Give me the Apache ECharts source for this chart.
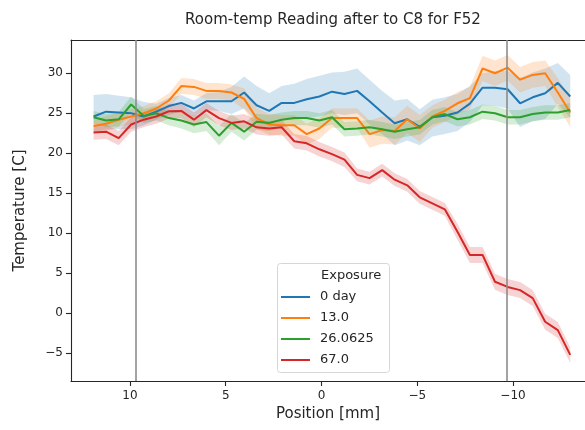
<!DOCTYPE html>
<html><head><meta charset="utf-8">
<script src="https://cdn.jsdelivr.net/npm/echarts@6/dist/echarts.min.js"></script>
<style>html,body{margin:0;padding:0;background:#fff}#c{width:585px;height:430px}</style>
</head><body><div id="c"></div>
<script>
// Position [mm] of each sample
const positions = [11.90, 11.25, 10.59, 9.94, 9.28, 8.63, 7.97, 7.32, 6.66, 6.01, 5.35, 4.70, 4.04, 3.39, 2.73, 2.08, 1.42, 0.77, 0.11, -0.55, -1.20, -1.86, -2.51, -3.17, -3.82, -4.48, -5.13, -5.79, -6.44, -7.10, -7.75, -8.41, -9.06, -9.72, -10.37, -11.03, -11.68, -12.34, -12.99];

const seriesNames = ['0 day', '13.0', '26.0625', '67.0'];

// 0 day
const day0Mean = [24.6, 25.2, 25.1, 25.0, 24.6, 25.2, 25.9, 26.3, 25.6, 26.5, 26.5, 26.5, 27.6, 26.0, 25.3, 26.3, 26.3, 26.75, 27.1, 27.7, 27.4, 27.8, 26.5, 25.1, 23.75, 24.25, 23.3, 24.5, 24.7, 25.1, 26.2, 28.2, 28.2, 28.0, 26.25, 27.0, 27.5, 28.8, 27.1];
const day0High = [27.3, 27.4, 27.2, 27.0, 26.4, 26.2, 26.9, 27.3, 26.6, 27.5, 27.7, 28.3, 29.6, 28.4, 27.5, 28.4, 28.7, 29.3, 29.7, 30.1, 30.2, 30.6, 29.2, 27.8, 26.6, 26.8, 25.5, 26.7, 27.0, 27.4, 28.4, 30.0, 30.3, 30.3, 29.4, 30.1, 30.6, 31.3, 29.8];
const day0Low = [22.6, 23.0, 23.0, 23.0, 23.5, 24.2, 24.8, 25.3, 24.6, 25.4, 25.3, 24.9, 25.6, 24.0, 23.5, 24.3, 24.2, 24.4, 24.6, 25.0, 24.8, 25.0, 23.6, 22.4, 21.0, 21.6, 21.0, 22.1, 22.4, 22.8, 23.9, 26.0, 25.9, 25.6, 23.3, 24.0, 24.3, 26.2, 24.4];

// 13.0
const exp13Mean = [23.4, 23.7, 24.2, 24.6, 25.0, 25.6, 26.6, 28.4, 28.3, 27.8, 27.8, 27.6, 26.8, 24.4, 23.6, 23.5, 23.5, 22.4, 23.1, 24.4, 24.4, 24.4, 22.4, 22.9, 22.8, 24.25, 23.1, 24.6, 25.3, 26.25, 26.9, 30.6, 30.0, 30.7, 29.2, 29.8, 30.0, 27.6, 25.1];
const exp13Ci = [0.9, 0.9, 0.9, 0.9, 0.9, 0.9, 0.9, 1.0, 1.0, 1.0, 1.0, 1.0, 1.3, 1.3, 1.3, 1.3, 1.3, 1.3, 1.3, 1.2, 1.2, 1.2, 1.7, 1.7, 1.7, 1.7, 1.7, 1.4, 1.4, 1.4, 1.4, 1.6, 1.6, 1.6, 1.6, 1.6, 1.6, 1.8, 1.8];

// 26.0625
const exp26Mean = [24.5, 24.1, 24.25, 26.1, 24.65, 25.0, 24.4, 24.1, 23.6, 23.9, 22.2, 23.8, 22.7, 23.95, 23.8, 24.2, 24.4, 24.4, 24.1, 24.5, 23.0, 23.1, 23.25, 23.0, 22.7, 23.0, 23.25, 24.5, 24.9, 24.25, 24.5, 25.2, 25.0, 24.5, 24.5, 24.9, 25.1, 25.1, 25.4];
const exp26Ci = [0.8, 0.8, 0.9, 1.0, 0.9, 0.9, 0.9, 1.0, 1.1, 1.1, 1.2, 1.1, 1.1, 1.0, 1.0, 0.9, 0.9, 0.9, 0.9, 0.9, 0.9, 0.9, 0.9, 0.9, 0.9, 0.9, 0.9, 0.9, 0.9, 0.9, 0.9, 0.9, 0.9, 0.9, 0.9, 0.9, 0.9, 0.9, 0.9];

// 67.0
const exp67Mean = [22.6, 22.7, 21.9, 23.6, 24.2, 24.6, 25.25, 25.3, 24.2, 25.4, 24.4, 23.8, 24.0, 23.25, 23.1, 23.25, 21.5, 21.25, 20.5, 19.9, 19.2, 17.3, 16.9, 17.9, 16.7, 16.0, 14.5, 13.75, 13.0, 10.2, 7.3, 7.3, 3.95, 3.3, 2.9, 1.9, -1.05, -2.1, -5.2];
const exp67Ci = [0.9, 0.9, 0.9, 0.9, 0.9, 0.9, 0.9, 0.9, 0.9, 0.9, 0.9, 0.9, 0.9, 0.9, 0.9, 0.9, 0.9, 0.9, 0.9, 0.9, 0.9, 0.8, 0.8, 0.8, 0.8, 0.8, 0.8, 0.8, 0.8, 1.0, 1.0, 1.0, 1.0, 1.0, 1.0, 1.0, 1.0, 1.0, 1.0];

const vlinePositions = [9.7, -9.7];
const xTicks = [10, 5, 0, -5, -10];
const yTicks = [-5, 0, 5, 10, 15, 20, 25, 30];

const FONT = 'DejaVu Sans';
const TXT = '#262626';
const colors = ['#1f77b4', '#ff7f0e', '#2ca02c', '#d62728'];
const bandColors = ['rgba(31,119,180,0.2)', 'rgba(255,127,14,0.2)', 'rgba(44,160,44,0.2)', 'rgba(214,39,40,0.2)'];

const means = [day0Mean, exp13Mean, exp26Mean, exp67Mean];
const lows = [day0Low, exp13Mean.map((v, i) => v - exp13Ci[i]), exp26Mean.map((v, i) => v - exp26Ci[i]), exp67Mean.map((v, i) => v - exp67Ci[i])];
const highs = [day0High, exp13Mean.map((v, i) => v + exp13Ci[i]), exp26Mean.map((v, i) => v + exp26Ci[i]), exp67Mean.map((v, i) => v + exp67Ci[i])];

function bandSeries(k) {
  const data = positions.map((x, i) => [x, lows[k][i], highs[k][i]]);
  return {
    type: 'custom', name: seriesNames[k] + ' band', z: 1, silent: true,
    xAxisIndex: 0, yAxisIndex: 0,
    data: data, encode: { x: 0, y: [1, 2] },
    renderItem: function (params, api) {
      if (params.dataIndex !== 0) return null;
      const pts = [];
      for (let i = 0; i < data.length; i++) pts.push(api.coord([data[i][0], data[i][2]]));
      for (let i = data.length - 1; i >= 0; i--) pts.push(api.coord([data[i][0], data[i][1]]));
      return { type: 'polygon', shape: { points: pts }, style: { fill: bandColors[k], stroke: null } };
    }
  };
}
function lineSeries(k) {
  return {
    type: 'line', name: seriesNames[k], z: 3, symbol: 'none', silent: true,
    xAxisIndex: 0, yAxisIndex: 0,
    data: positions.map((x, i) => [x, means[k][i]]),
    lineStyle: { color: colors[k], width: 2 }, itemStyle: { color: colors[k] }
  };
}
const minus = v => String(v).replace('-', '\u2212');

const series = [0, 1, 2, 3].map(bandSeries).concat([0, 1, 2, 3].map(lineSeries));
series.push({
  type: 'line', name: 'vlines', data: [], z: 4, silent: true, xAxisIndex: 0, yAxisIndex: 0,
  markLine: {
    silent: true, symbol: 'none', label: { show: false }, animation: false,
    lineStyle: { color: '#8c8c8c', width: 1.6, type: 'solid' },
    emphasis: { disabled: true },
    data: vlinePositions.map(v => ({ xAxis: v }))
  }
});

const X_MIN = -13.76, X_MAX = 13.08;
const chart = echarts.init(document.getElementById('c'));
chart.setOption({
  animation: false,
  grid: { left: 71, top: 40, right: 0, bottom: 49, show: false },
  xAxis: [{
    type: 'value', inverse: true, min: X_MIN, max: X_MAX, position: 'bottom',
    axisLine: { show: true, onZero: false, lineStyle: { color: TXT, width: 1.1 } },
    axisTick: { show: true, length: 5, lineStyle: { color: TXT, width: 1.1 }, customValues: xTicks },
    axisLabel: { customValues: xTicks, formatter: minus, fontSize: 12, color: TXT, fontFamily: FONT, margin: 9 },
    splitLine: { show: false },
    name: 'Position [mm]', nameLocation: 'middle', nameGap: 26,
    nameTextStyle: { fontSize: 15, color: TXT, fontFamily: FONT }
  }, {
    type: 'value', inverse: true, min: X_MIN, max: X_MAX, position: 'top',
    axisLine: { show: true, onZero: false, lineStyle: { color: TXT, width: 1.1 } },
    axisTick: { show: false }, axisLabel: { show: false }, splitLine: { show: false }
  }],
  yAxis: {
    type: 'value', min: -8.46, max: 34.16,
    axisLine: { show: true, onZero: false, lineStyle: { color: TXT, width: 1.1 } },
    axisTick: { show: true, length: 5, lineStyle: { color: TXT, width: 1.1 }, customValues: yTicks },
    axisLabel: { customValues: yTicks, formatter: minus, fontSize: 12, color: TXT, fontFamily: FONT, margin: 8 },
    splitLine: { show: false },
    name: 'Temperature [C]', nameLocation: 'middle', nameGap: 43,
    nameTextStyle: { fontSize: 15, color: TXT, fontFamily: FONT }
  },
  legend: {
    data: seriesNames, orient: 'vertical', left: 281, top: 290, padding: 0,
    itemWidth: 29, itemHeight: 2, icon: 'rect', itemGap: 7, selectedMode: false, z: 20,
    textStyle: { fontSize: 13, color: TXT, fontFamily: FONT, lineHeight: 14, padding: [0, 0, 0, 5] }
  },
  graphic: [
    { type: 'rect', z: 10, silent: true, shape: { x: 277.5, y: 263.5, width: 112, height: 109, r: 3 },
      style: { fill: 'rgba(255,255,255,0.8)', stroke: '#d6d6d6', lineWidth: 1 } },
    { type: 'text', z: 21, silent: true, x: 321, y: 276,
      style: { text: 'Exposure', fontSize: 13, fontFamily: FONT, fill: TXT, textVerticalAlign: 'middle' } },
    { type: 'text', z: 21, silent: true, x: 333, y: 20,
      style: { text: 'Room-temp Reading after to C8 for F52', fontSize: 15, fontFamily: FONT, fill: TXT, textAlign: 'center', textVerticalAlign: 'middle' } }
  ],
  series: series
});
</script></body></html>
